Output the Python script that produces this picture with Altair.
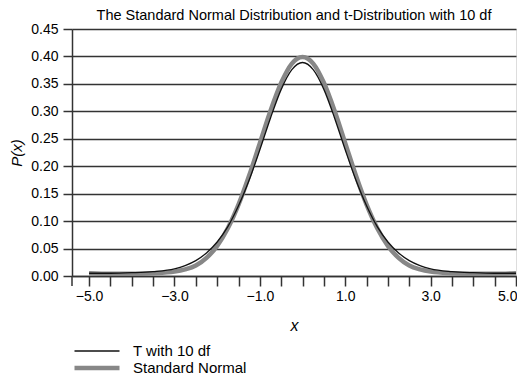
import altair as alt
import pandas as pd

# ---- data ----
x_vals = [-5.0, -4.5, -4.0, -3.5, -3.0, -2.75, -2.5, -2.25, -2.0, -1.75, -1.5, -1.25,
          -1.0, -0.75, -0.5, -0.25, 0.0, 0.25, 0.5, 0.75, 1.0, 1.25, 1.5, 1.75,
          2.0, 2.25, 2.5, 2.75, 3.0, 3.5, 4.0, 4.5, 5.0]
t_vals = [0.005, 0.005, 0.006, 0.008, 0.013, 0.019, 0.028, 0.042, 0.062, 0.090, 0.128, 0.175,
          0.230, 0.288, 0.340, 0.376, 0.389, 0.376, 0.340, 0.288, 0.230, 0.175, 0.128, 0.090,
          0.062, 0.042, 0.028, 0.019, 0.013, 0.008, 0.006, 0.005, 0.005]
norm_vals = [0.005, 0.004, 0.004, 0.005, 0.008, 0.012, 0.019, 0.033, 0.055, 0.087, 0.130, 0.183,
             0.242, 0.301, 0.352, 0.387, 0.399, 0.387, 0.352, 0.301, 0.242, 0.183, 0.130, 0.087,
             0.055, 0.033, 0.019, 0.012, 0.008, 0.005, 0.004, 0.004, 0.005]
series_names = ["T with 10 df", "Standard Normal"]
y_ticks = [0.0, 0.05, 0.10, 0.15, 0.20, 0.25, 0.30, 0.35, 0.40, 0.45]
x_ticks = [-5.0, -4.5, -4.0, -3.5, -3.0, -2.5, -2.0, -1.5, -1.0, -0.5, 0.0,
           0.5, 1.0, 1.5, 2.0, 2.5, 3.0, 3.5, 4.0, 4.5, 5.0]
x_labels = [-5.0, -3.0, -1.0, 1.0, 3.0, 5.0]
title_text = "The Standard Normal Distribution and t-Distribution with 10 df"

n = len(x_vals)
df = pd.DataFrame({
    "x": x_vals + x_vals,
    "p": t_vals + norm_vals,
    "series": [series_names[0]] * n + [series_names[1]] * n,
})

FONT = "Liberation Sans, Arial, sans-serif"
DARK = "#333333"

label_list = "[" + ",".join(str(v) for v in x_labels) + "]"
x_label_expr = f"indexof({label_list}, datum.value) >= 0 ? format(datum.value, '.1f') : ''"

legend = alt.Legend(
    orient="none", legendX=0, legendY=314, title=None,
    symbolType="stroke", symbolSize=2025, clipHeight=16, rowPadding=1,
    labelFont=FONT, labelFontSize=15, labelColor="black", labelOffset=11,
)

x_enc = alt.X(
    "x:Q",
    scale=alt.Scale(domain=[-5.4, 5.0], nice=False, zero=False),
    axis=alt.Axis(
        values=x_ticks, labelExpr=x_label_expr, title="x", grid=False,
        domain=True, domainColor=DARK, domainWidth=1.5,
        ticks=True, tickSize=10, tickColor=DARK, tickWidth=1.5,
        labelFont=FONT, labelFontSize=14, labelColor="black", labelPadding=3,
        labelFlush=False, labelOverlap=False,
        labelAlign={"condition": {"test": "datum.value >= 5", "value": "right"}, "value": "center"},
        labelOffset={"condition": {"test": "datum.value >= 5", "value": 1}, "value": 0},
        titleFont=FONT, titleFontSize=16, titleFontStyle="italic", titleFontWeight="normal",
        titleColor="black", titleX=222, titleY=49, titleBaseline="middle",
    ),
)
y_enc = alt.Y(
    "p:Q",
    scale=alt.Scale(domain=[0, 0.45], nice=False),
    axis=alt.Axis(
        values=y_ticks, format=".2f", title="P(x)", grid=True,
        gridColor=DARK, gridWidth=1.5,
        domain=True, domainColor=DARK, domainWidth=1.5,
        ticks=True, tickSize=9, tickColor=DARK, tickWidth=1.5,
        labelFont=FONT, labelFontSize=14, labelColor="black", labelPadding=5,
        labelFlush=False,
        titleFont=FONT, titleFontSize=15, titleFontStyle="italic", titleFontWeight="normal",
        titleColor="black", titleX=-56, titleY=123.5, titleAngle=270,
        titleAlign="center", titleBaseline="middle",
    ),
)
color = alt.Color("series:N", scale=alt.Scale(domain=series_names, range=["#111111", "#878787"]),
                  legend=legend)
width_enc = alt.StrokeWidth("series:N", scale=alt.Scale(domain=series_names, range=[1.3, 4.5]),
                            legend=legend)

base = alt.Chart(df).mark_line(interpolate="monotone").encode(
    x=x_enc, y=y_enc, color=color, strokeWidth=width_enc
)
normal_line = base.transform_filter(alt.datum.series == series_names[1])
t_line = base.transform_filter(alt.datum.series == series_names[0])

axis_ext = alt.Chart(pd.DataFrame({"a": [0]})).mark_rule(color=DARK, strokeWidth=1.5).encode(
    x=alt.value(0), y=alt.value(247), y2=alt.value(257)
)

chart = alt.layer(normal_line, t_line, axis_ext).properties(
    width=444, height=247,
    autosize=alt.AutoSizeParams(type="none"),
    padding={"left": 64, "top": 21, "right": 1, "bottom": 99},
    title=alt.Title(title_text, font=FONT, fontSize=14.5, fontWeight="normal",
                    color="black", anchor="middle", baseline="alphabetic", offset=0, dy=12),
).configure_view(stroke=None).configure(background="white")

chart.save("out.html", embed_options={"renderer": "svg", "actions": False})
